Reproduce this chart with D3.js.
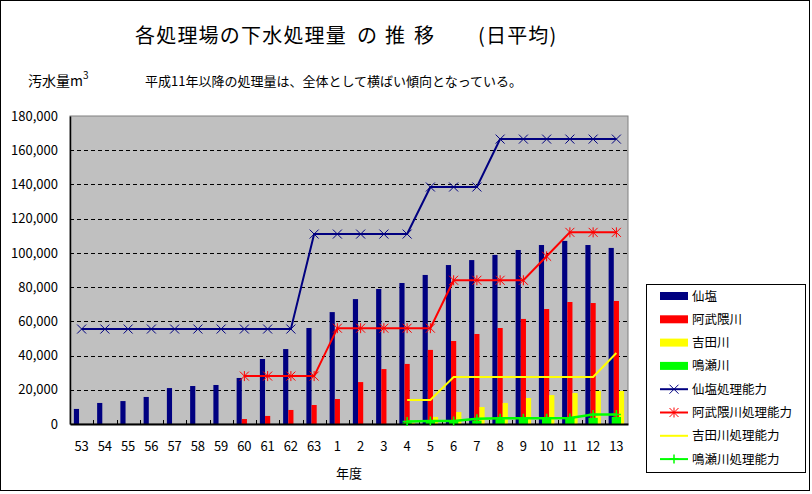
<!DOCTYPE html>
<html><head><meta charset="utf-8">
<script src="https://cdn.jsdelivr.net/npm/d3@7"></script>
<style>
html,body{margin:0;padding:0;background:#fff;}
text{font-family:"Noto Sans CJK JP","Noto Sans",sans-serif;}
</style></head>
<body>
<svg id="chart" width="812" height="494"></svg>
<script>
const categories = ["53","54","55","56","57","58","59","60","61","62","63","1","2","3","4","5","6","7","8","9","10","11","12","13"];
// bars (daily average, m3)
const sendai   = [8800,12300,13400,15800,21000,22200,22800,26900,38000,43800,56100,65400,73000,78900,82400,87100,92900,95800,98800,101700,104600,107000,104600,102900];
const abukuma  = [null,null,null,null,null,null,null,2900,4700,8200,11100,14600,24500,32100,35100,43300,48500,52600,56100,61400,67200,71300,70700,71900];
const yoshida  = [null,null,null,null,null,null,null,null,null,null,null,null,null,null,600,4100,7000,9900,12300,15200,16900,18100,19300,19300];
const naruse   = [null,null,null,null,null,null,null,null,null,null,null,null,null,null,800,1200,1800,2000,2800,3900,4000,4000,3600,4100];
// capacity lines
const sendaiCap  = [55500,55500,55500,55500,55500,55500,55500,55500,55500,55500,111000,111000,111000,111000,111000,138500,138500,138500,166500,166500,166500,166500,166500,166500];
const abukumaCap = [null,null,null,null,null,null,null,28000,28000,28000,28000,56000,56000,56000,56000,56000,84000,84000,84000,84000,98000,112000,112000,112000];
const yoshidaCap = [null,null,null,null,null,null,null,null,null,null,null,null,null,null,14000,14000,27500,27500,27500,27500,27500,27500,27500,41500];
const naruseCap  = [null,null,null,null,null,null,null,null,null,null,null,null,null,null,1500,1800,1800,3000,3300,3300,3300,3500,5500,5500];
const yTicks = [0,20000,40000,60000,80000,100000,120000,140000,160000,180000];

const titleParts = ["各処理場の下水処理量","の","推","移","(日平均)"];
const noteText = "平成11年以降の処理量は、全体として横ばい傾向となっている。";
const xTitle = "年度";
const barNames = ["仙塩","阿武隈川","吉田川","鳴瀬川"];
const lineNames = ["仙塩処理能力","阿武隈川処理能力","吉田川処理能力","鳴瀬川処理能力"];
const colors = {blue:"#000080", red:"#FF0000", yellow:"#FFFF00", green:"#00FF00"};

const svg = d3.select("#chart");
const L = 70, T = 116, W = 558, H = 308;

svg.append("rect").attr("x",0.5).attr("y",0.5).attr("width",809).attr("height",490)
  .attr("fill","#fff").attr("stroke","#000");

const x = d3.scaleBand().domain(categories).range([L, L+W]).padding(0);
const y = d3.scaleLinear().domain([0,180000]).range([T+H, T]);
const sub = d3.scaleBand().domain([0,1,2]).range([0, x.bandwidth()]).paddingInner(0).paddingOuter(0.75);
const sub2 = d3.scaleBand().domain([0]).range([0, x.bandwidth()]).paddingInner(0).paddingOuter(0.75);

// plot area
svg.append("rect").attr("x",L).attr("y",T).attr("width",W).attr("height",H)
  .attr("fill","#C0C0C0").attr("stroke","#808080");

// gridlines
svg.append("g").selectAll("line").data(yTicks.filter(v=>v>0 && v<180000)).join("line")
  .attr("x1",L).attr("x2",L+W).attr("y1",d=>Math.round(y(d))+0.5).attr("y2",d=>Math.round(y(d))+0.5)
  .attr("stroke","#000").attr("stroke-dasharray","4,3");

// primary bars
const barSeries = [sendai, abukuma, yoshida];
const barColors = [colors.blue, colors.red, colors.yellow];
barSeries.forEach((s,i)=>{
  svg.append("g").selectAll("rect").data(categories.map((c,j)=>({c,v:s[j]})).filter(d=>d.v!=null)).join("rect")
    .attr("x",d=>x(d.c)+sub(i)).attr("width",sub.bandwidth())
    .attr("y",d=>y(d.v)).attr("height",d=>y(0)-y(d.v))
    .attr("fill",barColors[i]);
});
// secondary (centered) bars
svg.append("g").selectAll("rect").data(categories.map((c,j)=>({c,v:naruse[j]})).filter(d=>d.v!=null)).join("rect")
  .attr("x",d=>x(d.c)+sub2(0)).attr("width",sub2.bandwidth())
  .attr("y",d=>y(d.v)).attr("height",d=>y(0)-y(d.v))
  .attr("fill",colors.green);

// axes
const xAxis = d3.axisBottom(x).tickSize(0).tickPadding(18);
const gx = svg.append("g").attr("transform",`translate(0,${T+H})`).call(xAxis);
gx.select(".domain").attr("stroke","#000").attr("stroke-width",2);
gx.selectAll("text").attr("font-size",13).attr("fill","#000");
svg.append("g").selectAll("line").data(categories.slice(1)).join("line")
  .attr("x1",d=>Math.round(x(d))+0.5).attr("x2",d=>Math.round(x(d))+0.5)
  .attr("y1",T+H).attr("y2",T+H-4).attr("stroke","#000");

const yAxis = d3.axisLeft(y).tickValues(yTicks).tickFormat(d3.format(",")).tickSize(0).tickPadding(12);
const gy = svg.append("g").attr("transform",`translate(${L},0)`).call(yAxis);
gy.select(".domain").attr("stroke","#000").attr("stroke-width",1.5);
gy.selectAll("text").attr("font-size",13).attr("fill","#000");

// lines
function drawLine(data, color, width){
  const pts = categories.map((c,j)=>({c,v:data[j]})).filter(d=>d.v!=null);
  svg.append("path").datum(pts)
    .attr("d", d3.line().x(d=>x(d.c)+x.bandwidth()/2).y(d=>y(d.v)))
    .attr("fill","none").attr("stroke",color).attr("stroke-width",width);
  return pts;
}
function markerX(g, cx, cy, color){
  g.append("path").attr("d",`M${cx-4.5},${cy-4.5}L${cx+4.5},${cy+4.5}M${cx-4.5},${cy+4.5}L${cx+4.5},${cy-4.5}`)
    .attr("stroke",color).attr("stroke-width",1).attr("fill","none");
}
function markerStar(g, cx, cy, color){
  g.append("path").attr("d",`M${cx-4.5},${cy-4.5}L${cx+4.5},${cy+4.5}M${cx-4.5},${cy+4.5}L${cx+4.5},${cy-4.5}M${cx},${cy-5}L${cx},${cy+5}`)
    .attr("stroke",color).attr("stroke-width",1).attr("fill","none");
}
function markerPlus(g, cx, cy, color){
  g.append("path").attr("d",`M${cx-4.5},${cy}L${cx+4.5},${cy}M${cx},${cy-4.5}L${cx},${cy+4.5}`)
    .attr("stroke",color).attr("stroke-width",1.5).attr("fill","none");
}
let p = drawLine(sendaiCap, colors.blue, 2);
let mg = svg.append("g");
p.forEach(d=>markerX(mg, x(d.c)+x.bandwidth()/2, y(d.v), colors.blue));
p = drawLine(abukumaCap, colors.red, 2);
mg = svg.append("g");
p.forEach(d=>markerStar(mg, x(d.c)+x.bandwidth()/2, y(d.v), colors.red));
drawLine(yoshidaCap, colors.yellow, 2);
p = drawLine(naruseCap, colors.green, 2.5);
mg = svg.append("g");
p.forEach(d=>markerPlus(mg, x(d.c)+x.bandwidth()/2, y(d.v), colors.green));

// titles
const titleX = [135, 357, 385, 414, 478];
const tt = svg.append("text").attr("y",43).attr("font-size",20).attr("letter-spacing",1.2).attr("fill","#000");
titleParts.forEach((s,i)=>tt.append("tspan").attr("x",titleX[i]).text(s));
const yl = svg.append("text").attr("x",28).attr("y",86).attr("font-size",14).attr("fill","#000");
yl.append("tspan").text("汚水量m");
yl.append("tspan").attr("dy",-7).attr("font-size",10).text("3");
svg.append("text").attr("x",145).attr("y",86).attr("font-size",13).attr("fill","#000").text(noteText);
svg.append("text").attr("x",x("4")+x.bandwidth()/2 - 58).attr("y",478).attr("font-size",13).attr("fill","#000")
  .attr("text-anchor","middle").text(xTitle);

// legend
const lg = svg.append("g");
lg.append("rect").attr("x",646.5).attr("y",284.5).attr("width",159).attr("height",188).attr("fill","#fff").attr("stroke","#000");
const rowY = i => 296 + 23.3*i;
const legColors = [colors.blue, colors.red, colors.yellow, colors.green];
barNames.forEach((n,i)=>{
  lg.append("rect").attr("x",660).attr("y",rowY(i)-4).attr("width",28).attr("height",8).attr("fill",legColors[i]);
  lg.append("text").attr("x",692).attr("y",rowY(i)+4.5).attr("font-size",12.5).attr("fill","#000").text(n);
});
lineNames.forEach((n,k)=>{
  const i = k+4, cy = rowY(i);
  lg.append("line").attr("x1",660).attr("x2",688).attr("y1",cy).attr("y2",cy).attr("stroke",legColors[k]).attr("stroke-width",2);
  if(k===0) markerX(lg,674,cy,colors.blue);
  if(k===1) markerStar(lg,674,cy,colors.red);
  if(k===3) markerPlus(lg,674,cy,colors.green);
  lg.append("text").attr("x",692).attr("y",cy+4.5).attr("font-size",12.5).attr("fill","#000").text(n);
});
</script>
</body></html>
